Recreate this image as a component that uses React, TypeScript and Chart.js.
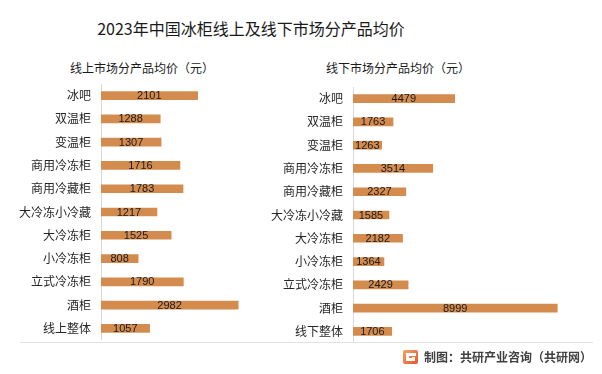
import React, { useEffect, useRef } from "react";
import { Chart, registerables } from "chart.js";

Chart.register(...registerables);

const onlineCategories = ["冰吧", "双温柜", "变温柜", "商用冷冻柜", "商用冷藏柜", "大冷冻小冷藏", "大冷冻柜", "小冷冻柜", "立式冷冻柜", "酒柜", "线上整体"];
const onlineValues = [2101, 1288, 1307, 1716, 1783, 1217, 1525, 808, 1790, 2982, 1057];

const offlineCategories = ["冰吧", "双温柜", "变温柜", "商用冷冻柜", "商用冷藏柜", "大冷冻小冷藏", "大冷冻柜", "小冷冻柜", "立式冷冻柜", "酒柜", "线下整体"];
const offlineValues = [4479, 1763, 1263, 3514, 2327, 1585, 2182, 1364, 2429, 8999, 1706];

const BAR_COLOR = "#D48C4E";
const CJK = "'Noto Sans CJK SC', 'Noto Sans', sans-serif";

const valueLabelPlugin = {
  id: "valueLabels",
  afterDatasetsDraw(chart: any) {
    const ctx = chart.ctx;
    ctx.save();
    ctx.font = "11px 'Liberation Sans', Arial, sans-serif";
    ctx.fillStyle = "#1a1a1a";
    ctx.textAlign = "center";
    ctx.textBaseline = "middle";
    chart.data.datasets.forEach((ds: any, di: number) => {
      const meta = chart.getDatasetMeta(di);
      meta.data.forEach((el: any, i: number) => {
        const cx = (el.x + el.base) / 2;
        ctx.fillText(String(ds.data[i]), cx, el.y + 0.5);
      });
    });
    ctx.restore();
  },
};

function BarPanel(props: { labels: string[]; values: number[]; max: number; left: number; top: number; width: number; height: number; axisWidth: number }) {
  const ref = useRef<HTMLCanvasElement>(null);
  useEffect(() => {
    if (!ref.current) return;
    const chart = new Chart(ref.current, {
      type: "bar",
      data: {
        labels: props.labels,
        datasets: [{ data: props.values, backgroundColor: BAR_COLOR, barThickness: 8 }],
      },
      options: {
        indexAxis: "y",
        animation: false,
        responsive: false,
        devicePixelRatio: 1,
        layout: { padding: 0, autoPadding: false },
        plugins: { legend: { display: false }, tooltip: { enabled: false }, title: { display: false } },
        scales: {
          x: { display: false, min: 0, max: props.max },
          y: {
            grid: { display: false, drawTicks: false },
            border: { display: true, color: "#d9d9d9", width: 1 },
            ticks: { font: { family: CJK, size: 12 }, color: "#262626", padding: 10 },
            afterFit(scale: any) {
              scale.width = props.axisWidth;
              scale.paddingTop = 0;
              scale.paddingBottom = 0;
            },
          },
        },
      },
      plugins: [valueLabelPlugin],
    } as any);
    return () => chart.destroy();
  }, []);
  return (
    <canvas
      ref={ref}
      width={props.width}
      height={props.height}
      style={{ position: "absolute", left: props.left, top: props.top, width: props.width, height: props.height }}
    />
  );
}

export default function App() {
  return (
    <div style={{ position: "absolute", left: 0, top: 0, width: 602, height: 374, background: "#fff", overflow: "hidden", fontFamily: CJK }}>
      <div style={{ position: "absolute", left: 0, width: 502, top: 16, textAlign: "center", fontSize: 16, color: "#1a1a1a", lineHeight: "24px" }}>
        2023年中国冰柜线上及线下市场分产品均价
      </div>
      <div style={{ position: "absolute", left: 70, top: 60, fontSize: 12, color: "#1a1a1a", lineHeight: "16px", whiteSpace: "nowrap" }}>
        线上市场分产品均价（元）
      </div>
      <div style={{ position: "absolute", left: 326, top: 60, fontSize: 12, color: "#1a1a1a", lineHeight: "16px", whiteSpace: "nowrap" }}>
        线下市场分产品均价（元）
      </div>
      <BarPanel labels={onlineCategories} values={onlineValues} max={3500} left={0} top={84} width={262} height={256} axisWidth={101} />
      <BarPanel labels={offlineCategories} values={offlineValues} max={10000} left={250} top={87} width={330} height={256} axisWidth={103} />
      <div style={{ position: "absolute", left: 20, top: 342, width: 573, height: 1, background: "#e3e3e3" }} />
      <div style={{ position: "absolute", left: 403, top: 350, width: 15, height: 14 }}>
        <div style={{ position: "absolute", left: 0, top: 0, width: 15, height: 14, borderRadius: 2, background: "linear-gradient(135deg, #F7A35C, #E8542E)" }} />
        <div style={{ position: "absolute", left: 3, top: 3, width: 10, height: 3, background: "#fff" }} />
        <div style={{ position: "absolute", left: 3, top: 3, width: 3, height: 8, background: "#fff" }} />
        <div style={{ position: "absolute", left: 3, top: 8, width: 9, height: 3, background: "#fff" }} />
        <div style={{ position: "absolute", left: 9, top: 7, width: 3, height: 3, background: "#fff" }} />
      </div>
      <div style={{ position: "absolute", left: 424, top: 348, fontSize: 12, fontWeight: "bold", color: "#404040", lineHeight: "18px", whiteSpace: "nowrap" }}>
        制图：共研产业咨询（共研网）
      </div>
    </div>
  );
}
